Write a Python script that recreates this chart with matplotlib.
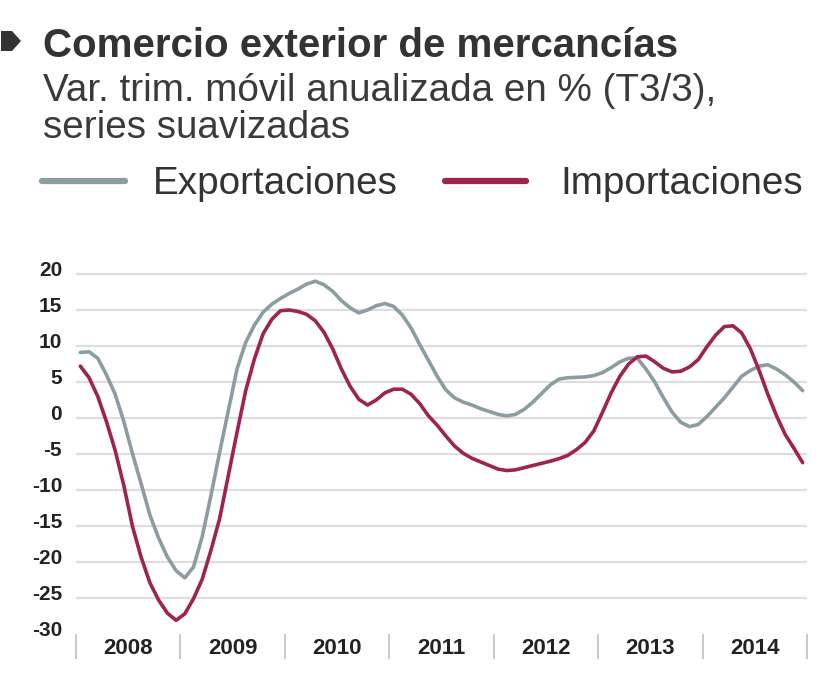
import numpy as np
import matplotlib
matplotlib.use("Agg")
import matplotlib.pyplot as plt
from matplotlib.lines import Line2D
from matplotlib.patches import Polygon
import matplotlib.transforms as mtransforms

plt.rcParams['font.family'] = ['Liberation Sans', 'DejaVu Sans']

# ---- data (monthly, Jan 2008 .. Dec 2014) ----
start_year = 2008
exportaciones = [
    9.1, 9.2, 8.3, 6.0, 3.3, -0.5, -5.0, -9.2, -13.5, -16.7, -19.3, -21.2,
    -22.2, -20.7, -16.5, -10.8, -4.8, 1.0, 6.8, 10.5, 12.9, 14.7, 15.8, 16.6,
    17.3, 17.9, 18.6, 19.0, 18.5, 17.6, 16.3, 15.3, 14.6, 15.0, 15.6, 15.9,
    15.5, 14.3, 12.5, 10.2, 8.0, 5.8, 3.9, 2.8, 2.2, 1.8, 1.3, 0.9,
    0.5, 0.3, 0.5, 1.2, 2.2, 3.4, 4.6, 5.4, 5.6, 5.65, 5.7, 5.9,
    6.3, 7.0, 7.8, 8.3, 8.3, 6.8, 5.0, 2.8, 0.8, -0.6, -1.2, -0.9,
    0.2, 1.5, 2.8, 4.3, 5.8, 6.6, 7.2, 7.4, 6.8, 6.0, 5.0, 3.8,
]
importaciones = [
    7.2, 5.6, 3.0, -0.5, -4.5, -9.4, -15.1, -19.4, -22.9, -25.3, -27.1, -28.1,
    -27.2, -25.1, -22.4, -18.4, -14.0, -8.0, -2.0, 3.8, 8.2, 11.7, 13.7, 14.9,
    15.0, 14.8, 14.4, 13.5, 11.9, 9.6, 6.8, 4.4, 2.6, 1.8, 2.5, 3.5,
    4.0, 4.0, 3.3, 2.0, 0.3, -1.0, -2.5, -3.9, -4.9, -5.6, -6.1, -6.6,
    -7.1, -7.3, -7.2, -6.9, -6.6, -6.3, -6.0, -5.65, -5.2, -4.4, -3.4, -1.8,
    0.8, 3.5, 5.8, 7.5, 8.5, 8.6, 7.8, 6.9, 6.4, 6.5, 7.1, 8.1,
    9.9, 11.5, 12.7, 12.8, 11.8, 9.6, 6.6, 3.3, 0.3, -2.3, -4.2, -6.2,
]
years = [2008, 2009, 2010, 2011, 2012, 2013, 2014]
yticks = [-30, -25, -20, -15, -10, -5, 0, 5, 10, 15, 20]
series_names = ['Exportaciones', 'Importaciones']

title = 'Comercio exterior de mercancías'
subtitle = 'Var. trim. móvil anualizada en % (T3/3),\nseries suavizadas'

col_exp = '#8c9da2'
col_imp = '#9f2350'

W, H = 828, 690
fig = plt.figure(figsize=(W / 100, H / 100), dpi=100)
fig.patch.set_facecolor('white')

def fx(px):
    return px / W

def fy(py):
    return 1 - py / H

ax_left, ax_right, ax_top, ax_bot = 76, 807, 270.4, 634
ax = fig.add_axes([fx(ax_left), fy(ax_bot), (ax_right - ax_left) / W, (ax_bot - ax_top) / H])

t = start_year + (np.arange(len(exportaciones)) + 0.5) / 12.0
ax.plot(t, exportaciones, color=col_exp, lw=2.6, solid_capstyle='round', solid_joinstyle='round', zorder=3)
ax.plot(t, importaciones, color=col_imp, lw=2.6, solid_capstyle='round', solid_joinstyle='round', zorder=4)

ax.set_xlim(years[0], years[-1] + 1)
ax.set_ylim(-30, 20.5)

for s in ax.spines.values():
    s.set_visible(False)

ax.set_yticks(yticks)
ax.set_yticklabels([str(v) for v in yticks])
ax.yaxis.grid(True, color='#dedede', lw=1.6)
ax.set_axisbelow(True)
gl = ax.get_ygridlines()
gl[0].set_visible(False)
ax.tick_params(axis='y', length=0, pad=10, labelsize=15, labelcolor='#222222')
for lab in ax.get_yticklabels():
    lab.set_fontweight('bold')
    lab.set_transform(lab.get_transform() + mtransforms.ScaledTranslation(0, 5 / 100, fig.dpi_scale_trans))

# year separators as major ticks, labels at minor positions
ax.set_xticks(list(years) + [years[-1] + 1])
ax.set_xticklabels([])
ax.tick_params(axis='x', which='major', length=18, width=1.3, color='#c4c4c4', direction='out')
ax.set_xticks([y + 0.5 for y in years], minor=True)
ax.set_xticklabels([str(y) for y in years], minor=True)
ax.tick_params(axis='x', which='minor', length=0, pad=3, labelsize=16, labelcolor='#222222')
for lab in ax.get_xticklabels(minor=True):
    lab.set_fontweight('bold')

# header
bullet = Polygon([(fx(1), fy(31)), (fx(12), fy(31)), (fx(21), fy(41)), (fx(12), fy(51)), (fx(1), fy(51))],
                 closed=True, transform=fig.transFigure, facecolor='#333333', edgecolor='none')
fig.patches.append(bullet)
fig.text(fx(43), fy(57), title, fontsize=29, fontweight='bold', color='#333333', va='baseline', ha='left')
fig.text(fx(43), fy(101), subtitle.split('\n')[0], fontsize=27.8, color='#3a3a3a', va='baseline', ha='left')
fig.text(fx(43), fy(138), subtitle.split('\n')[1], fontsize=27.8, color='#3a3a3a', va='baseline', ha='left')

# legend
fig.lines.append(Line2D([fx(42), fx(125)], [fy(181), fy(181)], transform=fig.transFigure,
                        color=col_exp, lw=4.5, solid_capstyle='round'))
fig.text(fx(153), fy(194), series_names[0], fontsize=27.8, color='#333333', va='baseline', ha='left')
fig.lines.append(Line2D([fx(445), fx(526)], [fy(181), fy(181)], transform=fig.transFigure,
                        color=col_imp, lw=4.5, solid_capstyle='round'))
fig.text(fx(560), fy(194), series_names[1], fontsize=27.8, color='#333333', va='baseline', ha='left')

fig.savefig('out.png', dpi=100, facecolor='white')
